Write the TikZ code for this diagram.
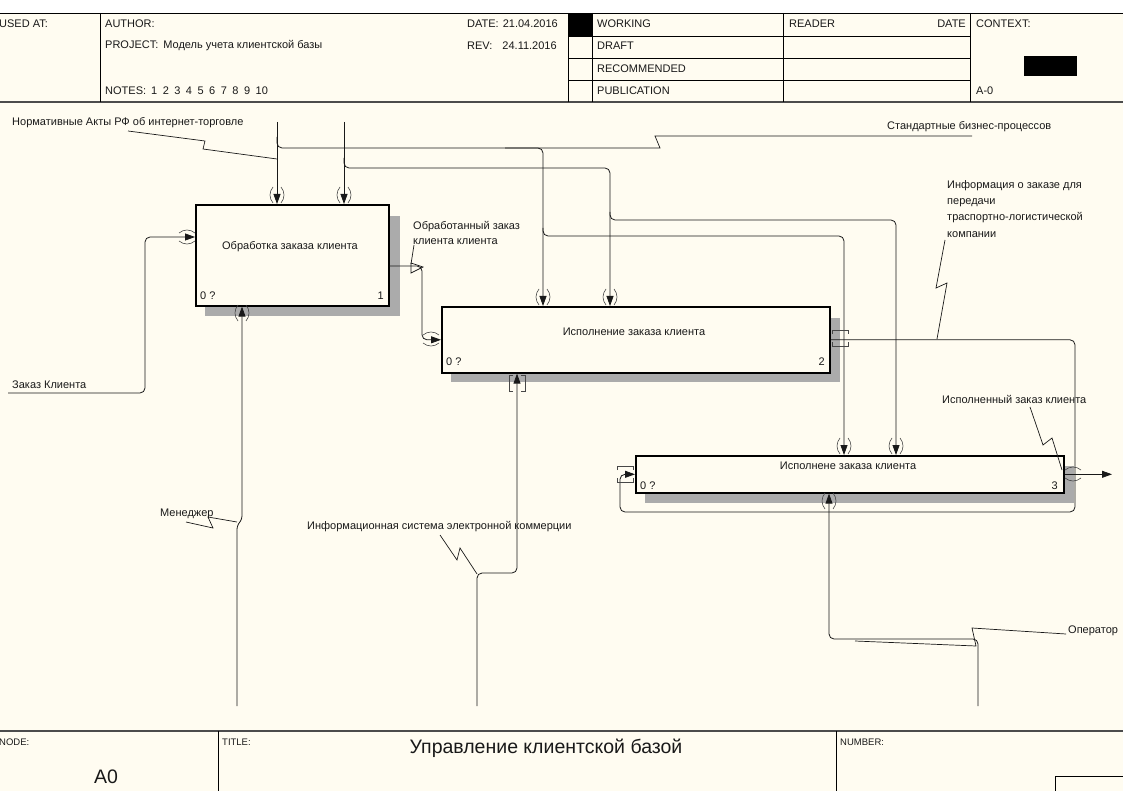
\documentclass[tikz,border=0pt]{standalone}
\usepackage{fontspec}
\setmainfont{Liberation Sans}
\usetikzlibrary{arrows.meta,calc}
\definecolor{cream}{RGB}{255,252,241}
\definecolor{ink}{RGB}{25,25,25}
\newcommand\myfs{\fontsize{11}{13}\selectfont}
\newcommand\mysmall{\fontsize{9.5}{11}\selectfont}
\newcommand\mybig{\fontsize{19.5}{22}\selectfont}
\begin{document}
\begin{tikzpicture}[x=1pt,y=-1pt,
  lbl/.style={font=\myfs, inner sep=0pt, anchor=west, text=ink},
  small/.style={font=\mysmall, inner sep=0pt, anchor=west, text=ink},
  boxtxt/.style={font=\myfs, inner sep=0pt, text=ink},
  box/.style={draw=black, line width=1.6pt, fill=cream, inner sep=0pt, anchor=north west},
  shd/.style={fill=black!33, draw=none},
  arr/.style={draw=ink, line width=0.8pt, rounded corners=5pt, -{Triangle[length=10pt,width=7pt]}},
  lead/.style={draw=ink, line width=0.7pt},
  tun/.style={draw=ink!80, line width=0.6pt},
  hl/.style={draw=black, line width=0.9pt},
  hl2/.style={draw=black!70, line width=1.4pt},
  parv/.pic={\draw[tun] (-4,-8) .. controls (-8,-3) and (-8,3) .. (-4,8);
             \draw[tun] (4,-8) .. controls (8,-3) and (8,3) .. (4,8);},
  parh/.pic={\draw[tun] (-8,-4) .. controls (-3,-8) and (3,-8) .. (8,-4);
             \draw[tun] (-8,4) .. controls (-3,8) and (3,8) .. (8,4);},
  brkv/.pic={\draw[tun] (-4,-8) -- (-8,-8) -- (-8,8) -- (-4,8);
             \draw[tun] (4,-8) -- (8,-8) -- (8,8) -- (4,8);},
  brkh/.pic={\draw[tun] (-8,-4) -- (-8,-8) -- (8,-8) -- (8,-4);
             \draw[tun] (-8,4) -- (-8,8) -- (8,8) -- (8,4);},
]
\useasboundingbox (0,0) rectangle (1123,791);
\fill[white] (0,0) rectangle (1123,13);
\fill[cream] (0,13) rectangle (1123,791);

% ---------- header frame
\draw[hl] (0,13) -- (1123,13);
\draw[hl2] (0,102) -- (1123,102);
\foreach \xx in {100,568,592,783,970} \draw[hl] (\xx,13) -- (\xx,102);
\foreach \yy in {36,58,80} \draw[hl] (568,\yy) -- (970,\yy);
\fill[black] (568,13) rectangle (592,36);
\fill[black] (1024,56) rectangle (1077,76);

\node[lbl] (usedat) at (-1,24) {USED AT:};
\node[lbl] (author) at (105,24) {AUTHOR:};
\node[lbl] (project) at (105,46) {PROJECT:\hspace{5pt}Модель учета клиентской базы};
\node[lbl] (notes) at (105,91) {NOTES:\hspace{5pt}1\hspace{5.5pt}2\hspace{5.5pt}3\hspace{5.5pt}4\hspace{5.5pt}5\hspace{5.5pt}6\hspace{5.5pt}7\hspace{5.5pt}8\hspace{5.5pt}9\hspace{5.5pt}10};
\node[lbl] (date) at (467,24) {DATE:\hspace{4pt}21.04.2016};
\node[lbl] (rev) at (467,46) {REV:\hspace{10pt}24.11.2016};
\node[lbl] (working) at (597,24) {WORKING};
\node[lbl] (draft) at (597,46) {DRAFT};
\node[lbl] (recom) at (597,69) {RECOMMENDED};
\node[lbl] (publ) at (597,91) {PUBLICATION};
\node[lbl] (reader) at (789,24) {READER};
\node[lbl, anchor=east] (rdate) at (966,24) {DATE};
\node[lbl] (context) at (976,24) {CONTEXT:};
\node[lbl] (azero) at (976,91) {A-0};

% ---------- footer frame
\draw[hl2] (0,731) -- (1123,731);
\draw[hl] (218,731) -- (218,791);
\draw[hl] (836,731) -- (836,791);
\draw[hl] (1055,792) -- (1055,776) -- (1124,776);
\node[small] (nodel) at (-1,742) {NODE:};
\node[small] (titlel) at (222,742) {TITLE:};
\node[small] (numberl) at (840,742) {NUMBER:};
\node[font=\mybig, inner sep=0pt, text=ink] (title) at (546,748) {Управление клиентской базой};
\node[font=\mybig, inner sep=0pt, text=ink] (nodeA) at (106,777) {A0};

% ---------- shadows and boxes
\fill[shd] (205,216) rectangle (400,316);
\fill[shd] (451,318) rectangle (840,382);
\fill[shd] (645,466) rectangle (1074,503);

\node[box, minimum width=193pt, minimum height=101pt] (b1) at (195,204) {};
\node[box, minimum width=388pt, minimum height=66pt] (b2) at (441,306) {};
\node[box, minimum width=428pt, minimum height=37pt] (b3) at (635,455) {};

\node[boxtxt] (t1) at (290,247) {Обработка заказа клиента};
\node[boxtxt] (t2) at (634,332) {Исполнение заказа клиента};
\node[boxtxt] (t3) at (848,466) {Исполнене заказа клиента};
\node[lbl] (n1a) at (200,296) {0 ?};
\node[lbl, anchor=east] (n1b) at (384,296) {1};
\node[lbl] (n2a) at (446,362) {0 ?};
\node[lbl, anchor=east] (n2b) at (825,362) {2};
\node[lbl] (n3a) at (640,486) {0 ?};
\node[lbl, anchor=east] (n3b) at (1058,486) {3};

% ---------- coordinates
\coordinate (c1) at (277,122);
\coordinate (c2) at (344,122);
\coordinate (k1) at (543,148);
\coordinate (k2) at (610,168);
\coordinate (k3) at (844,236);
\coordinate (k4) at (896,220);
\coordinate (in1) at (8,393);
\coordinate (p237) at (145,237);
\coordinate (o1) at (422,266);
\coordinate (f1) at (1075,512);
\coordinate (f2) at (620,512);
\coordinate (out3) at (1112,476);
\coordinate (m1) at (237,706);
\coordinate (m1a) at (237,526);
\coordinate (m1b) at (242,519);
\coordinate (m2) at (477,706);
\coordinate (m2a) at (517,573);
\coordinate (m3) at (978,706);
\coordinate (m3a) at (829,639);

% ---------- controls
\draw[arr] (c1) -- (c1 |- b1.north);
\draw[arr] (c2) -- (c2 |- b1.north);
\draw[arr] ($(c1)+(0,15)$) |- (k1) -- (k1 |- b2.north);
\draw[arr] ($(c2)+(0,36)$) |- (k2) -- (k2 |- b2.north);
\draw[arr] ($(k1 |- k3)+(0,-8)$) |- (k3) -- (k3 |- b3.north);
\draw[arr] ($(k2 |- k4)+(0,-8)$) |- (k4) -- (k4 |- b3.north);

% ---------- inputs / outputs
\draw[arr] (in1) -| (p237) -- (p237 -| b1.west);
\draw[arr] (o1 -| b1.east) -- (o1) |- (b2.west);
\draw[arr] (b2.east) -| (f1) -- (f2) |- (b3.west);
\draw[arr] (b3.east) -- (b3.east -| out3);

% ---------- mechanisms
\draw[arr, rounded corners=3pt] (m1) -- (m1a) -- (m1b) -- (m1b |- b1.south);
\draw[arr] (m2) |- (m2a) -- (m2a |- b2.south);
\draw[arr] (m3) |- (m3a) -- (m3a |- b3.south);

% ---------- tunnel marks
\pic at (277,195) {parv};
\pic at (344,195) {parv};
\pic at (543,297) {parv};
\pic at (610,297) {parv};
\pic at (844,446) {parv};
\pic at (896,446) {parv};
\pic at (187,237) {parh};
\pic at (242,313) {parv};
\pic at (431,339) {parh};
\pic at (517,383) {brkv};
\pic at (840,338) {brkh};
\pic at (625,474) {brkh};
\pic at (829,501) {parv};
\pic at (1073,474) {parh};

% ---------- labels
\node[lbl] (lab1) at (12,123) {Нормативные Акты РФ об интернет-торговле};
\node[lbl] (lab2) at (887,127) {Стандартные бизнес-процессов};
\node[lbl, align=left, font=\fontsize{11}{16.3}\selectfont, anchor=north west] (lab3) at (947,180) {Информация о заказе для\\передачи\\траспортно-логистической\\компании};
\node[lbl, align=left, font=\fontsize{11}{15.5}\selectfont, anchor=north west] (lab4) at (413,221) {Обработанный заказ\\клиента клиента};
\node[lbl] (lab5) at (12,385) {Заказ Клиента};
\node[lbl] (lab6) at (942,399) {Исполненный заказ клиента};
\node[lbl] (lab7) at (160,514) {Менеджер};
\node[lbl] (lab8) at (307,527) {Информационная система электронной коммерции};
\node[lbl] (lab9) at (1068,631) {Оператор};

% ---------- label leaders
\draw[lead] (128,131) -- (205,141) -- (203,149) -- (277,159);
\draw[lead] (972,136) -- (655,136) -- (660,148) -- (505,148);
\draw[lead] (414,245) -- (411,264);
\draw[lead] (411,263) -- (411,273) -- (423,267) -- cycle;
\draw[lead] (945,240) -- (936,288) -- (947,283) -- (937,339);
\draw[lead] (1030,407) -- (1043,445) -- (1052,438) -- (1062,470);
\draw[lead] (186,522) -- (213,528) -- (208,517) -- (237,522);
\draw[lead] (440,535) -- (457,560) -- (460,548) -- (477,574);
\draw[lead] (1066,634) -- (972,628) -- (976,646) -- (855,641);
\end{tikzpicture}
\end{document}
